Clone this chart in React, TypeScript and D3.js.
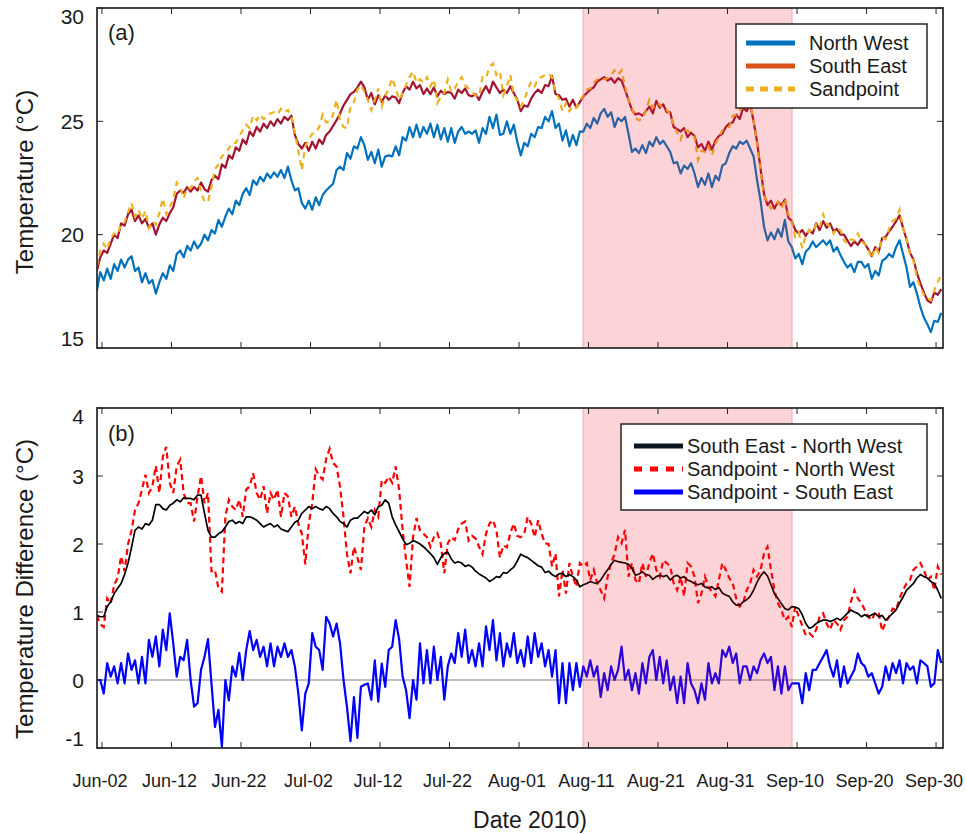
import React from "react";
import * as d3 from "d3";

// Half-day samples starting 2010-06-01 06:00
const START = "2010-06-01T06:00:00";
const STEP_HOURS = 12;

const NW = [
  17.5, 18.35, 17.98, 18.5, 18.05, 18.7, 18.4, 18.9, 18.55, 18.9,
  19.05, 18.4, 18.55, 17.9, 18.3, 17.85, 18.0, 17.4, 17.9, 18.3,
  18.05, 18.65, 18.4, 19.15, 19.3, 19.0, 19.5, 19.3, 19.7, 19.4,
  19.6, 20.0, 19.75, 20.2, 20.05, 20.65, 20.35, 20.8, 21.15, 20.9,
  21.5, 21.3, 21.8, 22.05, 21.75, 22.4, 22.2, 22.55, 22.35, 22.7,
  22.5, 22.75, 22.55, 22.85, 22.5, 23.0, 22.4, 21.95, 22.05, 21.4,
  21.15, 21.5, 21.1, 21.65, 21.3, 21.75, 21.95, 22.1,
  22.25, 22.85, 23.0, 22.85, 23.6, 23.35, 23.9, 23.8, 24.3, 23.95,
  23.3, 23.65, 23.15, 23.75, 23.0, 23.45, 23.5, 23.45, 23.9, 23.5,
  24.3, 24.15, 24.75, 24.3, 24.85, 24.3, 24.75, 24.45, 24.9, 24.3,
  24.85, 24.2, 24.7, 24.1, 24.7, 24.05, 24.55, 24.75, 24.45, 24.55,
  24.45, 24.6, 24.05, 24.7, 24.45, 25.2, 24.7, 25.3, 24.4, 24.45,
  25.0, 24.45, 24.85, 24.1, 23.5, 24.05, 23.9, 24.45, 24.3, 24.75,
  24.7, 25.2, 25.0, 25.45, 24.7, 24.9, 24.15, 24.6, 23.9, 24.4,
  23.95, 24.55, 24.55, 24.9, 24.7, 25.15, 24.9, 25.35, 25.55, 25.2,
  25.4, 24.75, 25.15, 25.0, 25.2, 24.45, 23.65, 23.8, 23.6,
  23.95, 23.6, 24.1, 23.9, 24.3, 24.0, 24.15, 23.9, 23.65, 23.15,
  23.2, 22.7, 23.05, 22.9, 23.15, 22.7, 22.1, 22.5, 22.2, 22.7,
  22.1, 22.6, 22.4, 23.05, 23.15, 23.6, 23.9, 23.8, 24.1, 24.0,
  24.15, 23.8, 23.45, 22.4, 21.5, 20.35, 19.75, 20.1, 19.8, 20.25,
  19.9, 20.65, 19.7, 19.45, 18.95, 19.15, 18.7, 19.25, 19.4, 19.7,
  19.45, 19.6, 19.75, 19.55, 19.75, 19.25, 19.45, 19.1, 18.8, 18.55,
  18.7, 18.35, 18.8, 18.8, 18.55, 18.7, 18.05, 18.4, 18.2, 18.85,
  18.95, 19.15, 19.0, 19.45, 19.75, 19.15, 18.55, 17.7, 17.9, 17.4,
  16.8, 16.35, 16.05, 15.7, 16.2, 16.15, 16.55,
];

const SE = [
  18.4, 19.0, 19.3, 19.2, 19.6, 20.0, 19.85, 20.5, 20.4, 20.9,
  21.1, 20.6, 20.85, 20.5, 20.7, 20.3, 20.5, 20.0, 20.45, 20.75,
  20.6, 20.95, 21.2, 21.8, 21.95, 21.85, 22.1, 21.9, 22.1, 21.95,
  22.3, 22.0, 21.9, 22.4, 22.6, 22.45, 23.1, 22.95, 23.5, 23.35,
  23.85, 23.7, 24.2, 24.0, 24.55, 24.35, 24.75, 24.55, 24.9, 24.7,
  25.0, 24.8, 25.1, 24.9, 25.2, 25.05, 25.25, 24.4, 24.0, 23.8,
  24.05, 23.7, 24.1, 23.8, 24.2, 24.0, 24.4, 24.55,
  24.8, 25.05, 25.35, 25.7, 25.95, 26.2, 26.3, 26.5, 26.75, 26.5,
  25.95, 26.25, 25.75, 26.15, 25.85, 26.15, 25.95, 26.1, 26.05, 25.8,
  26.25, 26.55, 26.4, 26.75, 26.45, 26.6, 26.2, 26.45, 26.2, 26.5,
  26.1, 26.35, 26.2, 26.3, 26.25, 26.0, 26.4, 26.25, 26.45, 26.15,
  26.1, 26.2, 25.95, 26.3, 26.55, 26.25, 26.75, 26.5, 26.25, 26.4,
  26.25, 26.55, 26.25, 25.95, 25.45, 25.7, 25.65, 26.0, 26.25, 26.4,
  26.25, 26.6, 26.55, 27.0, 26.2, 26.15, 25.95, 26.0, 25.65, 25.95,
  25.6, 25.85, 26.1, 26.25, 26.4, 26.5, 26.75, 26.85, 26.95, 26.8,
  26.9, 26.7, 26.9, 26.8, 26.4, 25.95, 25.5, 25.3, 25.35,
  25.25, 25.45, 25.65, 25.35, 25.9, 25.6, 25.75, 25.4, 25.4, 24.75,
  24.65, 24.55, 24.7, 24.3, 24.5, 24.35, 23.85, 24.0, 23.7, 24.1,
  23.75, 24.15, 24.35, 24.45, 24.75, 24.9, 24.95, 25.3, 25.1, 25.6,
  25.45, 25.75, 25.0, 24.1, 22.9, 21.8, 21.3, 21.5, 21.15, 21.45,
  21.3, 21.55, 20.75, 20.6, 20.2, 20.05, 20.2, 19.95, 20.2, 20.05,
  20.5, 20.2, 20.6, 20.3, 20.5, 20.15, 20.25, 20.0, 20.0, 19.75,
  19.5, 19.7, 19.55, 19.8, 19.6, 19.35, 19.05, 19.45, 19.25, 19.85,
  19.9, 20.15, 20.35, 20.6, 20.85, 20.3, 19.8, 19.2, 18.9, 18.3,
  17.85, 17.45, 17.1, 17.0, 17.45, 17.35, 17.6,
];

const SP = [
  18.6, 19.3, 19.6, 19.35, 19.85, 20.05, 20.0, 20.5, 20.55, 21.0,
  21.4, 20.8, 21.1, 20.7, 21.05, 20.3, 20.6, 20.45, 20.95, 21.6,
  20.9, 21.2, 21.55, 22.3, 22.1, 21.6, 22.05, 22.05, 22.35, 22.5,
  21.9, 21.45, 21.45, 22.1, 22.9, 23.1, 23.45, 23.6, 23.8, 24.05,
  24.05, 24.35, 24.6, 24.85, 24.7, 25.25, 25.05, 25.3, 25.1, 25.2,
  25.35, 25.4, 25.3, 25.55, 25.4, 25.5, 25.2, 24.5, 23.7, 22.85,
  23.9, 24.2, 24.45, 24.5, 24.75, 25.3, 24.95, 25.0,
  25.3, 25.95, 25.05, 24.75, 24.7, 25.65, 25.85, 26.4, 26.6, 26.3,
  25.95, 25.5, 25.95, 26.45, 25.65, 26.1, 26.45, 26.9, 26.45, 25.95,
  26.25, 26.6, 26.95, 27.2, 26.7, 26.85, 26.7, 26.95, 26.55, 26.85,
  25.8, 26.1, 26.25, 26.85, 26.3, 26.45, 26.75, 26.95, 26.6, 26.45,
  26.3, 26.15, 26.1, 26.95, 26.9, 27.4, 27.55, 27.05, 27.2, 26.15,
  26.55, 27.05, 26.15, 25.95, 25.65, 25.95, 26.4, 26.75, 26.55, 26.9,
  26.95, 27.05, 27.1, 26.95, 26.3, 26.0, 25.45, 25.8, 25.45, 25.7,
  25.6, 25.95, 26.1, 26.4, 26.45, 26.7, 26.85, 26.9, 26.85, 26.9,
  27.05, 27.25, 27.05, 27.25, 26.55, 25.95, 25.6, 25.15, 25.05,
  25.1, 25.5, 25.95, 25.6, 25.8, 25.75, 25.5, 25.5, 25.3, 24.85,
  24.5, 24.2, 24.6, 24.6, 24.45, 24.3, 23.3, 23.7, 23.65, 23.9,
  23.5, 24.0, 24.3, 24.6, 24.7, 24.75, 25.25, 25.28, 25.5, 25.65,
  25.55, 25.8, 25.05, 24.0, 22.8, 21.75, 21.45, 21.15, 21.3, 21.45,
  21.15, 21.6, 20.9, 20.6, 19.9, 20.1, 19.4, 19.95, 20.2, 20.1,
  20.45, 20.3, 20.9, 20.5, 20.35, 20.05, 20.3, 20.2, 19.75, 19.6,
  19.8, 19.75, 20.05, 19.7, 19.6, 19.35, 18.95, 19.45, 19.2, 19.9,
  19.8, 20.25, 20.6, 20.7, 21.1, 20.3, 19.85, 19.15, 18.85, 18.1,
  17.65, 17.35, 17.2, 17.1, 17.55, 17.9, 18.25,
];

const DIFF_SE_NW = [
  0.95, 0.93, 0.93, 1.08, 1.15, 1.27, 1.35, 1.42, 1.55, 1.72,
  1.95, 2.2, 2.25, 2.22, 2.3, 2.28, 2.35, 2.58, 2.58, 2.52,
  2.5, 2.57, 2.6, 2.65, 2.62, 2.68, 2.67, 2.67, 2.65, 2.72,
  2.72, 2.45, 2.2, 2.1, 2.1, 2.15, 2.18, 2.25, 2.33, 2.35,
  2.3, 2.33, 2.3, 2.4, 2.4, 2.38, 2.35, 2.3, 2.25, 2.28,
  2.3, 2.25, 2.28, 2.22, 2.2, 2.18, 2.25, 2.32, 2.35, 2.45,
  2.5, 2.55, 2.52, 2.55, 2.52, 2.5, 2.55, 2.52,
  2.45, 2.4, 2.33, 2.3, 2.25, 2.35, 2.38, 2.38, 2.43, 2.48,
  2.45, 2.5, 2.43, 2.55, 2.57, 2.65, 2.6, 2.4, 2.28, 2.18,
  2.08, 1.99, 2.01, 2.05, 2.03, 2.0, 1.96, 1.91, 1.86, 1.8,
  1.7, 1.8, 1.86, 1.88, 1.78, 1.72, 1.74, 1.72, 1.67, 1.69,
  1.66, 1.6, 1.56, 1.53, 1.5, 1.45, 1.48, 1.52, 1.51, 1.58,
  1.57, 1.62, 1.66, 1.75, 1.85, 1.82, 1.8, 1.76, 1.72, 1.68,
  1.66, 1.58, 1.6, 1.55, 1.52, 1.56, 1.57, 1.52, 1.55, 1.52,
  1.47, 1.37, 1.4, 1.42, 1.45, 1.43, 1.42, 1.47, 1.55, 1.62,
  1.7, 1.76, 1.74, 1.73, 1.72, 1.7, 1.64, 1.54, 1.56,
  1.59, 1.55, 1.54, 1.48, 1.52, 1.54, 1.52, 1.54, 1.47, 1.52,
  1.54, 1.5, 1.52, 1.47, 1.45, 1.42, 1.4, 1.42, 1.37, 1.35,
  1.37, 1.33, 1.36, 1.28, 1.25, 1.23, 1.15, 1.1, 1.1, 1.15,
  1.18, 1.23, 1.32, 1.44, 1.53, 1.59, 1.53, 1.4, 1.27, 1.2,
  1.12, 1.05, 1.03, 1.08, 1.07, 1.05, 0.96, 0.83, 0.76, 0.78,
  0.83, 0.86, 0.88, 0.88, 0.86, 0.88, 0.91, 0.88, 0.93, 0.98,
  1.03, 1.0, 0.98, 0.93, 0.96, 0.93, 0.96, 0.98, 0.93, 0.95,
  0.88, 0.93, 0.98, 1.03, 1.13, 1.22, 1.32, 1.37, 1.42, 1.5,
  1.55, 1.52, 1.5, 1.45, 1.42, 1.32, 1.2,
];

const DIFF_SP_NW = [
  0.95, 0.82, 0.78, 1.2, 1.12, 1.4, 1.5, 1.82, 1.6, 2.0,
  2.2, 2.5, 2.6, 2.8, 3.02, 2.75, 2.85, 3.15, 2.75, 3.28,
  3.43, 2.9, 2.75, 3.14, 3.24, 2.75, 2.6, 2.6, 2.33, 2.7,
  3.0, 2.6, 2.75, 1.6, 1.62, 1.35, 1.3, 2.4, 2.65, 2.55,
  2.5, 2.65, 2.4, 2.8, 2.85, 3.04, 2.75, 2.65, 2.85, 2.45,
  2.75, 2.65, 2.8, 2.4, 2.75, 2.7, 2.4, 2.55, 2.3, 2.15,
  1.7, 2.3, 2.6, 3.1, 3.0, 2.95, 3.25, 3.4,
  3.19, 3.14, 2.84, 2.4, 1.85, 1.57, 1.96, 1.8, 1.62, 2.25,
  2.38, 2.25, 2.5, 2.4, 2.94, 2.9, 2.99, 2.9, 3.14, 2.8,
  2.21, 1.76, 1.37, 2.1, 2.38, 2.2, 2.15, 2.1, 1.96, 2.1,
  2.16, 2.0, 1.57, 2.01, 2.1, 2.06, 2.22, 2.3, 2.33, 2.05,
  2.12, 2.08, 1.96, 1.85, 2.15, 2.3, 2.35, 2.2, 1.8, 1.98,
  1.95, 2.16, 2.3, 2.12, 2.1, 2.15, 2.4, 2.3, 2.1, 2.35,
  2.15, 2.01, 2.0, 1.67, 1.86, 1.23, 1.62, 1.27, 1.72, 1.52,
  1.37, 1.72, 1.67, 1.72, 1.47, 1.62, 1.42, 1.32, 1.2, 1.52,
  1.72, 1.85, 2.1, 2.01, 2.21, 1.52, 1.72, 1.47, 1.42,
  1.72, 1.52, 1.72, 1.86, 1.62, 1.52, 1.76, 1.72, 1.67, 1.42,
  1.32, 1.52, 1.23, 1.72, 1.67, 1.52, 1.13, 1.27, 1.52, 1.37,
  1.3, 1.23, 1.47, 1.72, 1.62, 1.5, 1.42, 1.2, 1.08, 1.13,
  1.32, 1.42, 1.62, 1.52, 1.62, 1.86, 1.96, 1.62, 1.32, 1.13,
  1.03, 0.88, 0.93, 0.78, 1.08, 0.93, 0.8, 0.66, 0.69, 0.64,
  0.74, 0.93, 0.98, 0.83, 0.74, 0.88, 0.83, 0.74, 0.88, 0.93,
  1.15, 1.32, 1.2, 1.13, 1.03, 0.93, 0.88, 1.0, 0.98, 0.72,
  0.85, 0.93, 1.05, 1.03, 1.2, 1.32, 1.42, 1.47, 1.62, 1.67,
  1.72, 1.62, 1.47, 1.52, 1.32, 1.67, 1.55,
];

const DIFF_SP_SE = [
  0.0, 0.0, -0.2, 0.25, 0.05, 0.2, -0.05, 0.25, -0.05, 0.39,
  0.15, 0.29, -0.05, 0.34, -0.05, 0.59, 0.34, 0.64, 0.2, 0.74,
  0.44, 0.98, 0.54, 0.05, 0.34, 0.29, 0.59, 0.0, -0.39, -0.34,
  0.15, 0.34, 0.6, -0.05, -0.69, -0.44, -0.98, 0.0, -0.3, 0.2,
  0.05, 0.4, 0.0, 0.44, 0.72, 0.44, 0.59, 0.34, 0.49, 0.2,
  0.54, 0.2, 0.49, 0.34, 0.54, 0.34, 0.44, 0.2, -0.2, -0.74,
  -0.2, -0.05, 0.69, 0.49, 0.44, 0.15, 0.93, 0.83,
  0.64, 0.83, 0.54, 0.0, -0.4, -0.9, -0.25, -0.85, -0.1, -0.07,
  -0.05, -0.29, 0.29, -0.32, 0.24, -0.1, 0.44, 0.49, 0.88, 0.6,
  0.05, -0.15, -0.56, 0.0, -0.29, 0.54, -0.05, 0.44, -0.05, 0.49,
  0.0, 0.34, -0.29, 0.2, 0.39, 0.25, 0.69, 0.34, 0.74, 0.25,
  0.44, 0.2, 0.54, 0.2, 0.79, 0.44, 0.88, 0.29, 0.69, 0.2,
  0.54, 0.34, 0.69, 0.25, 0.44, 0.2, 0.64, 0.25, 0.69, 0.34,
  0.54, 0.2, 0.44, 0.05, 0.44, -0.34, 0.25, -0.34, 0.25, -0.15,
  0.25, -0.1, 0.2, 0.05, 0.29, 0.05, 0.2, -0.25, 0.1, -0.15,
  0.2, 0.0, 0.15, 0.49, 0.0, 0.15, -0.15, 0.1, -0.2,
  0.25, -0.05, 0.34, 0.44, 0.0, 0.34, -0.05, 0.29, -0.15, 0.05,
  -0.34, 0.05, -0.34, 0.25, -0.05, -0.15, -0.34, -0.05, -0.29, 0.25,
  -0.05, 0.1, -0.05, 0.44, 0.34, 0.49, 0.25, 0.39, -0.05, 0.2,
  0.2, 0.0, 0.2, 0.1, 0.29, 0.39, 0.25, 0.34, -0.15, 0.2,
  -0.2, 0.2, -0.15, -0.05, -0.05, -0.05, -0.34, 0.1, -0.15, 0.15,
  0.15, 0.25, 0.34, 0.44, 0.2, 0.05, 0.29, -0.1, 0.2, -0.05,
  0.05, 0.15, 0.39, 0.25, 0.2, 0.05, 0.1, -0.05, -0.2, -0.1,
  0.2, 0.0, 0.25, 0.1, 0.29, -0.05, 0.25, 0.15, 0.2, -0.05,
  0.29, 0.25, 0.2, -0.1, -0.05, 0.44, 0.25,
];

const X_TICK_DATES = [
  "2010-06-02", "2010-06-12", "2010-06-22", "2010-07-02", "2010-07-12",
  "2010-07-22", "2010-08-01", "2010-08-11", "2010-08-21", "2010-08-31",
  "2010-09-10", "2010-09-20", "2010-09-30",
];
const X_TICK_LABELS = [
  "Jun-02", "Jun-12", "Jun-22", "Jul-02", "Jul-12", "Jul-22", "Aug-01",
  "Aug-11", "Aug-21", "Aug-31", "Sep-10", "Sep-20", "Sep-30",
];
const Y_TICKS_A = [15, 20, 25, 30];
const Y_TICKS_B = [-1, 0, 1, 2, 3, 4];
const SHADE_RANGE = ["2010-08-10T05:00:00", "2010-09-09T07:00:00"];
const X_DOMAIN = ["2010-06-01T06:45:00", "2010-10-01T00:00:00"];
const LEGEND_A = ["North West", "South East", "Sandpoint"];
const LEGEND_B = ["South East - North West", "Sandpoint - North West", "Sandpoint - South East"];

const FONT = "'Liberation Sans', Arial, Helvetica, sans-serif";
const AX = "#262626";

const parseISO = d3.timeParse("%Y-%m-%dT%H:%M:%S");
const parseDay = d3.timeParse("%Y-%m-%d");

const X0 = 97, X1 = 943;
const PA = { top: 8, bottom: 348 };
const PB = { top: 408, bottom: 748 };

export default function App() {
  const start = parseISO(START)!.getTime();
  const tOf = (i: number) => new Date(start + i * STEP_HOURS * 3600 * 1000);
  const x = d3.scaleTime()
    .domain([parseISO(X_DOMAIN[0])!, parseISO(X_DOMAIN[1])!])
    .range([X0, X1]);
  const yA = d3.scaleLinear().domain([15, 30]).range([PA.bottom, PA.top]);
  const yB = d3.scaleLinear().domain([-1, 4]).range([PB.bottom, PB.top]);
  const lineA = d3.line<number>().x((_, i) => x(tOf(i))).y((d) => yA(d));
  const lineB = d3.line<number>().x((_, i) => x(tOf(i))).y((d) => yB(d));
  const tickDates = X_TICK_DATES.map((s) => parseDay(s)!);
  const sx0 = x(parseISO(SHADE_RANGE[0])!);
  const sx1 = x(parseISO(SHADE_RANGE[1])!);

  const frame = (p: { top: number; bottom: number }, yTicks: number[], y: any, key: string) => (
    <g key={key}>
      <rect x={X0} y={p.top} width={X1 - X0} height={p.bottom - p.top} fill="none" stroke={AX} strokeWidth={1.7} />
      {tickDates.map((d, i) => (
        <g key={i}>
          <line x1={x(d)} x2={x(d)} y1={p.bottom} y2={p.bottom - 6} stroke={AX} strokeWidth={1} />
          <line x1={x(d)} x2={x(d)} y1={p.top} y2={p.top + 6} stroke={AX} strokeWidth={1} />
        </g>
      ))}
      {yTicks.map((v) => (
        <g key={v}>
          <line x1={X0} x2={X0 + 6} y1={y(v)} y2={y(v)} stroke={AX} strokeWidth={1} />
          <line x1={X1} x2={X1 - 6} y1={y(v)} y2={y(v)} stroke={AX} strokeWidth={1} />
          <text
            x={84}
            y={Math.min(Math.max(y(v), p.top + 8), p.bottom - 10)}
            dy="0.36em"
            textAnchor="end"
            fontSize={21}
            fill="#1a1a1a"
          >
            {v}
          </text>
        </g>
      ))}
    </g>
  );

  const shade = (p: { top: number; bottom: number }) => (
    <g>
      <rect x={sx0} y={p.top} width={sx1 - sx0} height={p.bottom - p.top} fill="#EF1C28" fillOpacity={0.19} />
      <line x1={sx0} x2={sx0} y1={p.top} y2={p.bottom} stroke="#EF1C28" strokeOpacity={0.3} strokeWidth={1} />
      <line x1={sx1} x2={sx1} y1={p.top} y2={p.bottom} stroke="#EF1C28" strokeOpacity={0.3} strokeWidth={1} />
    </g>
  );

  const legA = [
    { color: "#0072BD", dash: undefined },
    { color: "#D95319", dash: undefined },
    { color: "#EDB120", dash: "8,6" },
  ];
  const legB = [
    { color: "#0b1620", dash: undefined },
    { color: "#FF0000", dash: "8,8" },
    { color: "#0000FF", dash: undefined },
  ];
  const legAY = [43, 66, 89];
  const legBY = [446, 469, 492];

  return (
    <svg width={967} height={834} style={{ display: "block", position: "absolute", left: 0, top: 0 }} fontFamily={FONT}>
      <defs>
        <clipPath id="clipA">
          <rect x={X0} y={PA.top} width={X1 - X0} height={PA.bottom - PA.top} />
        </clipPath>
        <clipPath id="clipB">
          <rect x={X0} y={PB.top} width={X1 - X0} height={PB.bottom - PB.top} />
        </clipPath>
      </defs>
      <rect x={0} y={0} width={967} height={834} fill="#fff" />

      {/* Panel (a) */}
      <g clipPath="url(#clipA)">
        <path d={lineA(NW)!} fill="none" stroke="#0072BD" strokeWidth={2.2} strokeLinejoin="round" />
        <path d={lineA(SE)!} fill="none" stroke="#A2142F" strokeWidth={2.2} strokeLinejoin="round" />
        <path d={lineA(SP)!} fill="none" stroke="#EDB120" strokeWidth={2.2} strokeDasharray="6,5" />
      </g>
      {shade(PA)}
      {frame(PA, Y_TICKS_A, yA, "fa")}
      <text x={108} y={40} fontSize={22} fill="#1a1a1a">(a)</text>
      <rect x={736} y={24} width={191} height={84} fill="#fff" stroke={AX} strokeWidth={1.5} />
      {LEGEND_A.map((name, i) => (
        <g key={name}>
          <line x1={746} x2={795} y1={legAY[i]} y2={legAY[i]} stroke={legA[i].color} strokeWidth={5} strokeDasharray={legA[i].dash} />
          <text x={809} y={legAY[i]} dy="0.36em" fontSize={20} fill="#1a1a1a">{name}</text>
        </g>
      ))}
      <text transform="translate(24,182) rotate(-90)" textAnchor="middle" dy="0.36em" fontSize={24} fill="#1a1a1a">
        Temperature (°C)
      </text>

      {/* Panel (b) */}
      <g clipPath="url(#clipB)">
        <line x1={X0} x2={X1} y1={yB(0)} y2={yB(0)} stroke="#808080" strokeWidth={1.2} />
        <path d={lineB(DIFF_SP_NW)!} fill="none" stroke="#FF0000" strokeWidth={2.2} strokeDasharray="6,4" />
        <path d={lineB(DIFF_SE_NW)!} fill="none" stroke="#000" strokeWidth={1.7} strokeLinejoin="round" />
        <path d={lineB(DIFF_SP_SE)!} fill="none" stroke="#0000FF" strokeWidth={2.2} strokeLinejoin="round" />
      </g>
      {shade(PB)}
      {frame(PB, Y_TICKS_B, yB, "fb")}
      <text x={108} y={441} fontSize={22} fill="#1a1a1a">(b)</text>
      <rect x={621} y={424} width={306} height={86} fill="#fff" stroke={AX} strokeWidth={1.5} />
      {LEGEND_B.map((name, i) => (
        <g key={name}>
          <line x1={634} x2={683} y1={legBY[i]} y2={legBY[i]} stroke={legB[i].color} strokeWidth={5} strokeDasharray={legB[i].dash} />
          <text x={687} y={legBY[i]} dy="0.36em" fontSize={20} fill="#1a1a1a">{name}</text>
        </g>
      ))}
      <text transform="translate(24,589) rotate(-90)" textAnchor="middle" dy="0.36em" fontSize={24} fill="#1a1a1a">
        Temperature Difference (°C)
      </text>

      {/* X tick labels */}
      {tickDates.map((d, i) => (
        <text key={i} x={x(d) - 2} y={787} textAnchor="middle" fontSize={18} fill="#1a1a1a">
          {X_TICK_LABELS[i]}
        </text>
      ))}
      <text x={530} y={828} textAnchor="middle" fontSize={23} fill="#1a1a1a">Date 2010)</text>
    </svg>
  );
}
